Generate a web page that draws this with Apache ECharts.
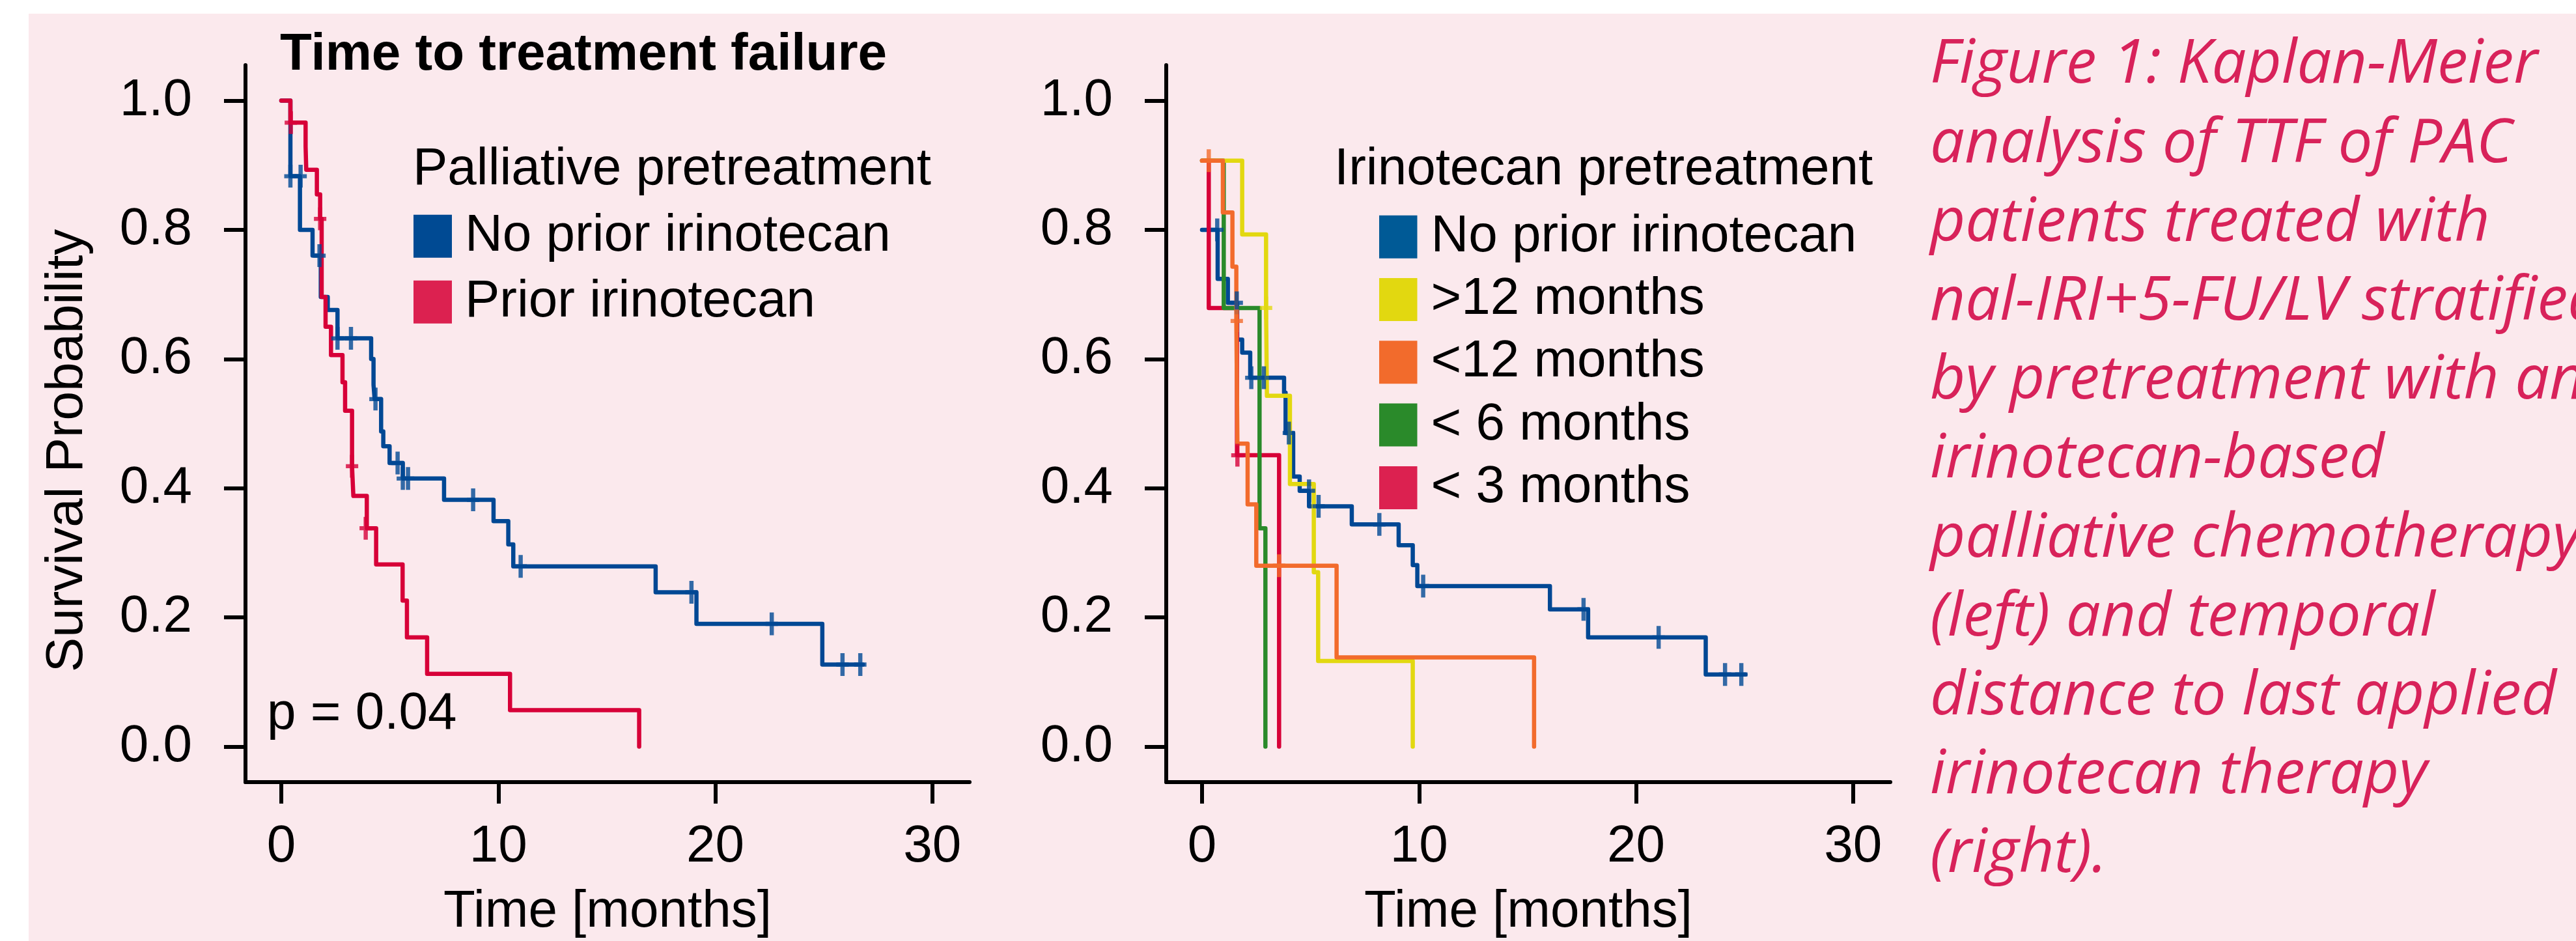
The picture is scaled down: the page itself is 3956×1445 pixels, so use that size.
<!DOCTYPE html>
<html><head><meta charset="utf-8">
<script src="https://cdn.jsdelivr.net/npm/echarts@6/dist/echarts.min.js"></script>
<style>html,body{margin:0;padding:0;background:#fff}#c{width:3956px;height:1445px}</style>
</head><body><div id="c"></div>
<script>
// ---------------- data ----------------
const xTicks = [0, 10, 20, 30];
const yTicks = [0, 0.2, 0.4, 0.6, 0.8, 1.0];
const leftTitle = 'Time to treatment failure';
const leftLegendTitle = 'Palliative pretreatment';
const rightLegendTitle = 'Irinotecan pretreatment';
const leftGroups = ['No prior irinotecan', 'Prior irinotecan'];
const rightGroups = ['No prior irinotecan', '>12 months', '<12 months', '< 6 months', '< 3 months'];
const pValueText = 'p = 0.04';
const xName = 'Time [months]';
const yName = 'Survival Probability';

// Left panel: no prior irinotecan
const noPriorT = [0, 0.42, 0.86, 1.44, 1.82, 2.14, 2.59, 4.14, 4.25, 4.30, 4.60, 4.70, 4.99, 5.60, 7.50, 9.78, 10.46, 10.69, 17.25, 19.13, 24.93, 26.8];
const noPriorS = [1.0, 0.883, 0.80, 0.76, 0.696, 0.676, 0.632, 0.60, 0.56, 0.538, 0.488, 0.465, 0.439, 0.415, 0.382, 0.349, 0.313, 0.279, 0.239, 0.19, 0.127, 0.127];
const noPriorCensT = [0.42, 0.89, 1.76, 2.59, 3.21, 4.34, 5.36, 5.60, 5.84, 8.84, 11.03, 18.9, 22.6, 25.86, 26.68];
const noPriorCensS = [0.883, 0.883, 0.76, 0.632, 0.632, 0.538, 0.439, 0.415, 0.415, 0.382, 0.279, 0.239, 0.19, 0.127, 0.127];
// Left panel: prior irinotecan
const priorT = [0, 0.42, 1.12, 1.15, 1.64, 1.79, 1.86, 2.04, 2.29, 2.82, 2.94, 3.26, 3.32, 3.94, 4.37, 5.59, 5.79, 6.72, 10.54, 16.49];
const priorS = [1.0, 0.966, 0.929, 0.893, 0.855, 0.817, 0.696, 0.65, 0.606, 0.564, 0.52, 0.434, 0.388, 0.338, 0.282, 0.226, 0.169, 0.1125, 0.0565, 0];
const priorCensT = [0.44, 1.79, 3.26, 3.89];
const priorCensS = [0.966, 0.817, 0.434, 0.338];

// Right panel
const rNoT = [0, 0.72, 1.19, 1.62, 1.85, 2.22, 3.78, 3.85, 4.2, 4.5, 4.93, 6.9, 9.06, 9.71, 9.92, 16.03, 17.79, 23.21, 25.04];
const rNoS = [0.80, 0.724, 0.687, 0.63, 0.61, 0.571, 0.548, 0.4855, 0.418, 0.396, 0.372, 0.344, 0.3116, 0.281, 0.2485, 0.2125, 0.169, 0.1117, 0.1117];
const rNoCensT = [0.70, 1.60, 2.27, 2.85, 4.0, 4.93, 5.37, 8.17, 10.19, 17.58, 21.04, 24.1, 24.85];
const rNoCensS = [0.80, 0.687, 0.571, 0.571, 0.4855, 0.396, 0.372, 0.344, 0.2485, 0.2125, 0.169, 0.1117, 0.1117];

const gt12T = [0, 1.85, 2.95, 2.99, 4.05, 5.15, 5.35, 9.71];
const gt12S = [0.907, 0.793, 0.679, 0.543, 0.4065, 0.270, 0.1326, 0];
const gt12CensT = [2.95];
const gt12CensS = [0.679];

const lt12T = [0, 0.96, 1.40, 1.58, 1.63, 2.10, 2.50, 6.20, 15.30];
const lt12S = [0.907, 0.827, 0.743, 0.659, 0.469, 0.375, 0.28, 0.138, 0];
const lt12CensT = [0.31, 1.60, 3.55];
const lt12CensS = [0.907, 0.659, 0.28];

const lt6T = [0, 1.0, 2.65, 2.92];
const lt6S = [0.907, 0.679, 0.338, 0];

const lt3T = [0, 0.31, 1.61, 3.55];
const lt3S = [0.907, 0.679, 0.451, 0];
const lt3CensT = [1.63];
const lt3CensS = [0.451];

const captionLines = ['Figure 1: Kaplan-Meier', 'analysis of TTF of PAC', 'patients treated with',
  'nal-IRI+5-FU/LV stratified', 'by pretreatment with an', 'irinotecan-based',
  'palliative chemotherapy', '(left) and temporal', 'distance to last applied',
  'irinotecan therapy', '(right).'];

// ---------------- styling ----------------
const FONT = 'Liberation Sans';
const PINK = '#FBE9ED';
const C = {
  blueLine: '#004894', blueSwL: '#004A93', blueSwR: '#005A96',
  redLine: '#D70038', redSw: '#DC2150',
  yellow: '#E2D810', orange: '#F26B2C', green: '#2A8A2A'
};
const PLUS = 'path://M33,0H67V41H100V59H67V100H33V59H0V41H33Z';
const LW = 6.5;

function pairs(T, S) { return T.map((t, i) => [t, S[i]]); }
function km(name, T, S, color, gi) {
  return { type: 'line', name, xAxisIndex: gi, yAxisIndex: gi, data: pairs(T, S), step: 'end',
    symbol: 'none', showSymbol: false, silent: true, z: 2,
    lineStyle: { color, width: LW, cap: 'round', join: 'round' }, itemStyle: { color } };
}
function cens(T, S, color, gi) {
  return { type: 'scatter', xAxisIndex: gi, yAxisIndex: gi, data: pairs(T, S), symbol: PLUS,
    symbolSize: [19, 35], silent: true, z: 3, itemStyle: { color } };
}

const XMIN = -1.65, XMAX = 31.716, YMIN = -0.055, YMAX = 1.055;
function xAx(gi) {
  return { type: 'value', gridIndex: gi, min: XMIN, max: XMAX,
    name: xName, nameLocation: 'middle', nameGap: 160,
    nameTextStyle: { fontSize: 80, fontFamily: FONT, color: '#000' },
    axisLine: { show: true, onZero: false, lineStyle: { color: '#000', width: 6 } },
    axisTick: { show: true, inside: false, length: 33, lineStyle: { color: '#000', width: 6 }, customValues: xTicks },
    axisLabel: { show: true, margin: 60, fontSize: 80, fontFamily: FONT, color: '#000', customValues: xTicks, formatter: v => String(v) },
    splitLine: { show: false } };
}
function yAx(gi) {
  return { type: 'value', gridIndex: gi, min: YMIN, max: YMAX,
    axisLine: { show: true, onZero: false, lineStyle: { color: '#000', width: 6 } },
    axisTick: { show: true, inside: false, length: 33, lineStyle: { color: '#000', width: 6 }, customValues: yTicks },
    axisLabel: { show: true, margin: 82, fontSize: 80, fontFamily: FONT, color: '#000', customValues: yTicks, formatter: v => v.toFixed(1) },
    splitLine: { show: false } };
}
const txt = (size, weight) => ({ fontSize: size, fontWeight: weight || 'normal', fontFamily: FONT, color: '#000' });

const option = {
  backgroundColor: '#ffffff',
  animation: false,
  graphic: [
    { type: 'rect', z: -100, silent: true, shape: { x: 44, y: 21, width: 3956 - 44, height: 1445 - 21 }, style: { fill: PINK } },
    { type: 'text', x: 104.3, y: 692, rotation: Math.PI / 2, silent: true,
      style: { text: yName, font: '80px "Liberation Sans"', fill: '#000', align: 'center', verticalAlign: 'middle' } },
    { type: 'text', x: 2964, y: 40, silent: true,
      style: { text: captionLines.join('\n'), fontStyle: 'italic', fontSize: 94, fontFamily: 'Open Sans',
        fill: '#D8225A', lineHeight: 121.2, align: 'left', verticalAlign: 'top' } }
  ],
  title: [
    { text: leftTitle, left: 430, top: 44.8, padding: 0, textStyle: txt(80, 'bold') },
    { text: leftLegendTitle, left: 634, top: 221.3, padding: 0, textStyle: txt(80) },
    { text: rightLegendTitle, left: 2049, top: 221.3, padding: 0, textStyle: txt(80) },
    { text: pValueText, left: 410, top: 1057.3, padding: 0, textStyle: txt(80) }
  ],
  legend: [
    { orient: 'vertical', left: 635, top: 322.8, padding: 0, itemWidth: 59, itemHeight: 66, itemGap: 21,
      icon: 'rect', selectedMode: false,
      textStyle: { fontSize: 80, fontFamily: FONT, color: '#000', lineHeight: 60, padding: [0, 0, 0, 15] },
      data: [
        { name: leftGroups[0], itemStyle: { color: C.blueSwL, borderWidth: 0 } },
        { name: leftGroups[1], itemStyle: { color: C.redSw, borderWidth: 0 } }
      ] },
    { orient: 'vertical', left: 2118, top: 323.7, padding: 0, itemWidth: 58.5, itemHeight: 66, itemGap: 16.3,
      icon: 'rect', selectedMode: false,
      textStyle: { fontSize: 80, fontFamily: FONT, color: '#000', lineHeight: 60, padding: [0, 0, 0, 16] },
      data: [
        { name: rightGroups[0], itemStyle: { color: C.blueSwR, borderWidth: 0 } },
        { name: rightGroups[1], itemStyle: { color: C.yellow, borderWidth: 0 } },
        { name: rightGroups[2], itemStyle: { color: C.orange, borderWidth: 0 } },
        { name: rightGroups[3], itemStyle: { color: C.green, borderWidth: 0 } },
        { name: rightGroups[4], itemStyle: { color: C.redSw, borderWidth: 0 } }
      ] }
  ],
  grid: [
    { left: 377, top: 100, width: 1112, height: 1101, containLabel: false, outerBoundsMode: 'none' },
    { left: 1791, top: 100, width: 1112, height: 1101, containLabel: false, outerBoundsMode: 'none' }
  ],
  xAxis: [xAx(0), xAx(1)],
  yAxis: [yAx(0), yAx(1)],
  series: [
    km(leftGroups[0], noPriorT, noPriorS, C.blueLine, 0),
    km(leftGroups[1], priorT, priorS, C.redLine, 0),
    km(rightGroups[0], rNoT, rNoS, C.blueLine, 1),
    km(rightGroups[4], lt3T, lt3S, C.redLine, 1),
    km(rightGroups[3], lt6T, lt6S, C.green, 1),
    km(rightGroups[1], gt12T, gt12S, C.yellow, 1),
    km(rightGroups[2], lt12T, lt12S, C.orange, 1),
    cens(noPriorCensT, noPriorCensS, C.blueLine, 0),
    cens(priorCensT, priorCensS, C.redLine, 0),
    cens(rNoCensT, rNoCensS, C.blueLine, 1),
    cens(gt12CensT, gt12CensS, C.yellow, 1),
    cens(lt12CensT, lt12CensS, C.orange, 1),
    cens(lt3CensT, lt3CensS, C.redLine, 1)
  ]
};
const chart = echarts.init(document.getElementById('c'), null, { renderer: 'canvas', devicePixelRatio: 1 });
chart.setOption(option);
</script>
</body></html>
